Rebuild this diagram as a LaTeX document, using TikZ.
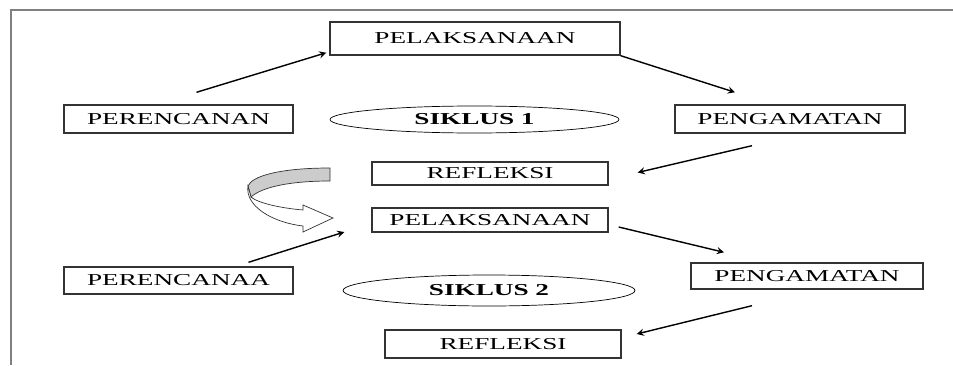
\documentclass[tikz,border=0pt]{standalone}
\usepackage{fontspec}
\setmainfont{Liberation Serif}[FakeStretch=1.63]
\usetikzlibrary{positioning,calc,shapes.geometric}

\begin{document}
\begin{tikzpicture}[x=0.02cm,y=-0.02cm,>=stealth,
	stagebox/.style={draw=black!80,thick,inner sep=0pt,minimum height=.56cm,font=\fontsize{9.5}{11}\selectfont},
	cyclelabel/.style={draw,ellipse,inner sep=0pt,font=\fontsize{9.5}{11}\selectfont\bfseries}]

\useasboundingbox (0,0) rectangle (953,365);
\draw [gray,line width=.03cm] (11,365) -- (11,10) -- (953,10);

% siklus 1
\node [stagebox,minimum width=5.8cm,minimum height=.66cm] at (475,38.5) (pel1) {PELAKSANAAN};
\node [stagebox,minimum width=4.58cm] at (178.5,119) (per1) {PERENCANAN};
\node [cyclelabel,minimum width=5.78cm,minimum height=.54cm] at (474.5,119.5) (sik1) {SIKLUS 1};
\node [stagebox,minimum width=4.6cm] at (790,119) (peng1) {PENGAMATAN};
\node [stagebox,minimum width=4.72cm,minimum height=.46cm] at (490,173.5) (ref1) {REFLEKSI};

% siklus 2
\node [stagebox,minimum width=4.72cm,minimum height=.48cm] at (490,220) (pel2) {PELAKSANAAN};
\node [stagebox,minimum width=4.58cm,minimum height=.54cm] at (178.5,280.5) (per2) {PERENCANAA};
\node [cyclelabel,minimum width=5.84cm,minimum height=.62cm] at (489,290.5) (sik2) {SIKLUS 2};
\node [stagebox,minimum width=4.64cm,minimum height=.52cm] at (807,276) (peng2) {PENGAMATAN};
\node [stagebox,minimum width=4.72cm] at (503,344) (ref2) {REFLEKSI};

%%%%%%%%%%%%%%%%%%%%%%%%%%%%%%%%%%%%%%%%%%%%%%%%%%%%%%%%%%%%%%%%

\draw [->,thick] ($(per1.north)+(18,-12)$) -- ($(pel1.south west)+(-3,-3)$);
\draw [->,thick] (pel1.south east) -- ($(peng1.north)+(-55,-12)$);
\draw [->,thick] ($(peng1.south)+(-38,12)$) -- ($(ref1.east)+(29,-1)$);

\draw [->,thick] ($(per2.north)+(70,-4)$) -- ($(pel2.west)+(-27,12)$);
\draw [->,thick] ($(pel2.east)+(10,7)$) -- ($(peng2.north)+(-83,-10)$);
\draw [->,thick] ($(peng2.south)+(-55,16)$) -- ($(ref2.east)+(15,-10)$);

%%%%%%%%%%%%%%%%%%%%%%%%%%%%%%%%%%%%%%%%%%%%%%%%%%%%%%%%%%%%%%%%

% panah lengkung
\filldraw [fill=gray!40,draw=black!80] (330,168) .. controls (280,168) and (252,176) .. (248,186)
	-- (251,197) .. controls (262,187) and (290,181) .. (330,181) -- cycle;
\filldraw [fill=white,draw=black!80] (248,186) .. controls (245,205) and (270,222) .. (303,226)
	-- (303,232) -- (333,218) -- (303,205) -- (303,210)
	.. controls (280,208) and (258,203) .. (251,197) -- cycle;

\end{tikzpicture}
\end{document}
